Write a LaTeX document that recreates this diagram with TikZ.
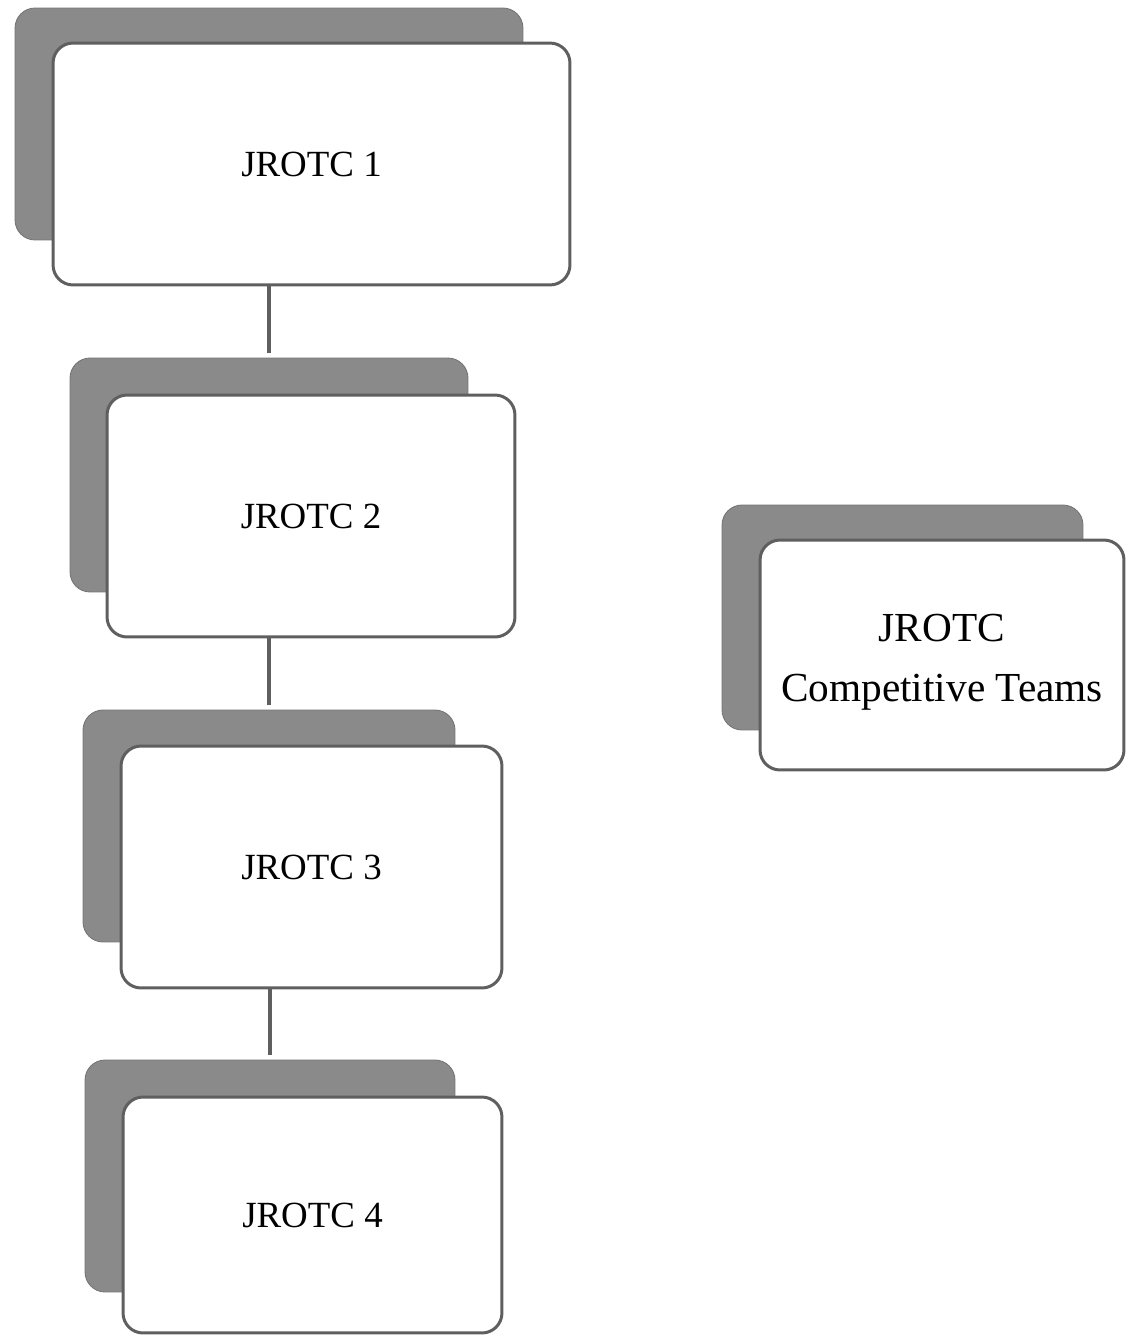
\documentclass[tikz,border=0pt]{standalone}
\usepackage{fontspec}
\setmainfont{Liberation Serif}
\usepackage{tikz}
\usetikzlibrary{positioning}

\definecolor{cardgray}{RGB}{138,138,138}
\definecolor{edgegray}{RGB}{95,95,95}

\tikzset{
  backcard/.style={rectangle, rounded corners=0.4cm, fill=cardgray, draw=cardgray!85!black, line width=0.5pt, inner sep=0pt},
  frontcard/.style={rectangle, rounded corners=0.4cm, fill=white, draw=edgegray, line width=1.7pt, inner sep=0pt, align=center, font=\fontsize{21}{34}\selectfont},
  link/.style={draw=edgegray, line width=2.2pt, shorten >=0.1cm}
}

\begin{document}
\begin{tikzpicture}[x=0.02cm, y=-0.02cm]
    \useasboundingbox (0,0) rectangle (1127,1335);

    % JROTC 1
    \node [backcard, minimum width=10.16cm, minimum height=4.64cm] (j1back) at (269,124) {};
    \node [frontcard, minimum width=10.34cm, minimum height=4.84cm] (j1) at (311.5,164) {JROTC 1};

    % JROTC 2
    \node [backcard, minimum width=7.96cm, minimum height=4.68cm] (j2back) at (269,475) {};
    \node [frontcard, minimum width=8.16cm, minimum height=4.84cm] (j2) at (311,516) {JROTC 2};

    % JROTC 3
    \node [backcard, minimum width=7.44cm, minimum height=4.64cm] (j3back) at (269,826) {};
    \node [frontcard, minimum width=7.62cm, minimum height=4.84cm] (j3) at (311.5,867) {JROTC 3};

    % JROTC 4
    \node [backcard, minimum width=7.4cm, minimum height=4.64cm] (j4back) at (270,1176) {};
    \node [frontcard, minimum width=7.58cm, minimum height=4.72cm] (j4) at (312.5,1215) {JROTC 4};

    % competitive teams
    \node [backcard, minimum width=7.22cm, minimum height=4.5cm] (teamsback) at (902.5,617.5) {};
    \node [frontcard, minimum width=7.28cm, minimum height=4.6cm, font=\fontsize{23.5}{34}\selectfont] (teams) at (942,655) {\raisebox{-0.31cm}[0pt][0pt]{\begin{tabular}{@{}c@{}}JROTC\\Competitive Teams\end{tabular}}};

    % links
    \draw [link] (j1.south -| j2back.north) -- (j2back.north);
    \draw [link] (j2.south -| j3back.north) -- (j3back.north);
    \draw [link] (j3.south -| j4back.north) -- (j4back.north);

\end{tikzpicture}
\end{document}
